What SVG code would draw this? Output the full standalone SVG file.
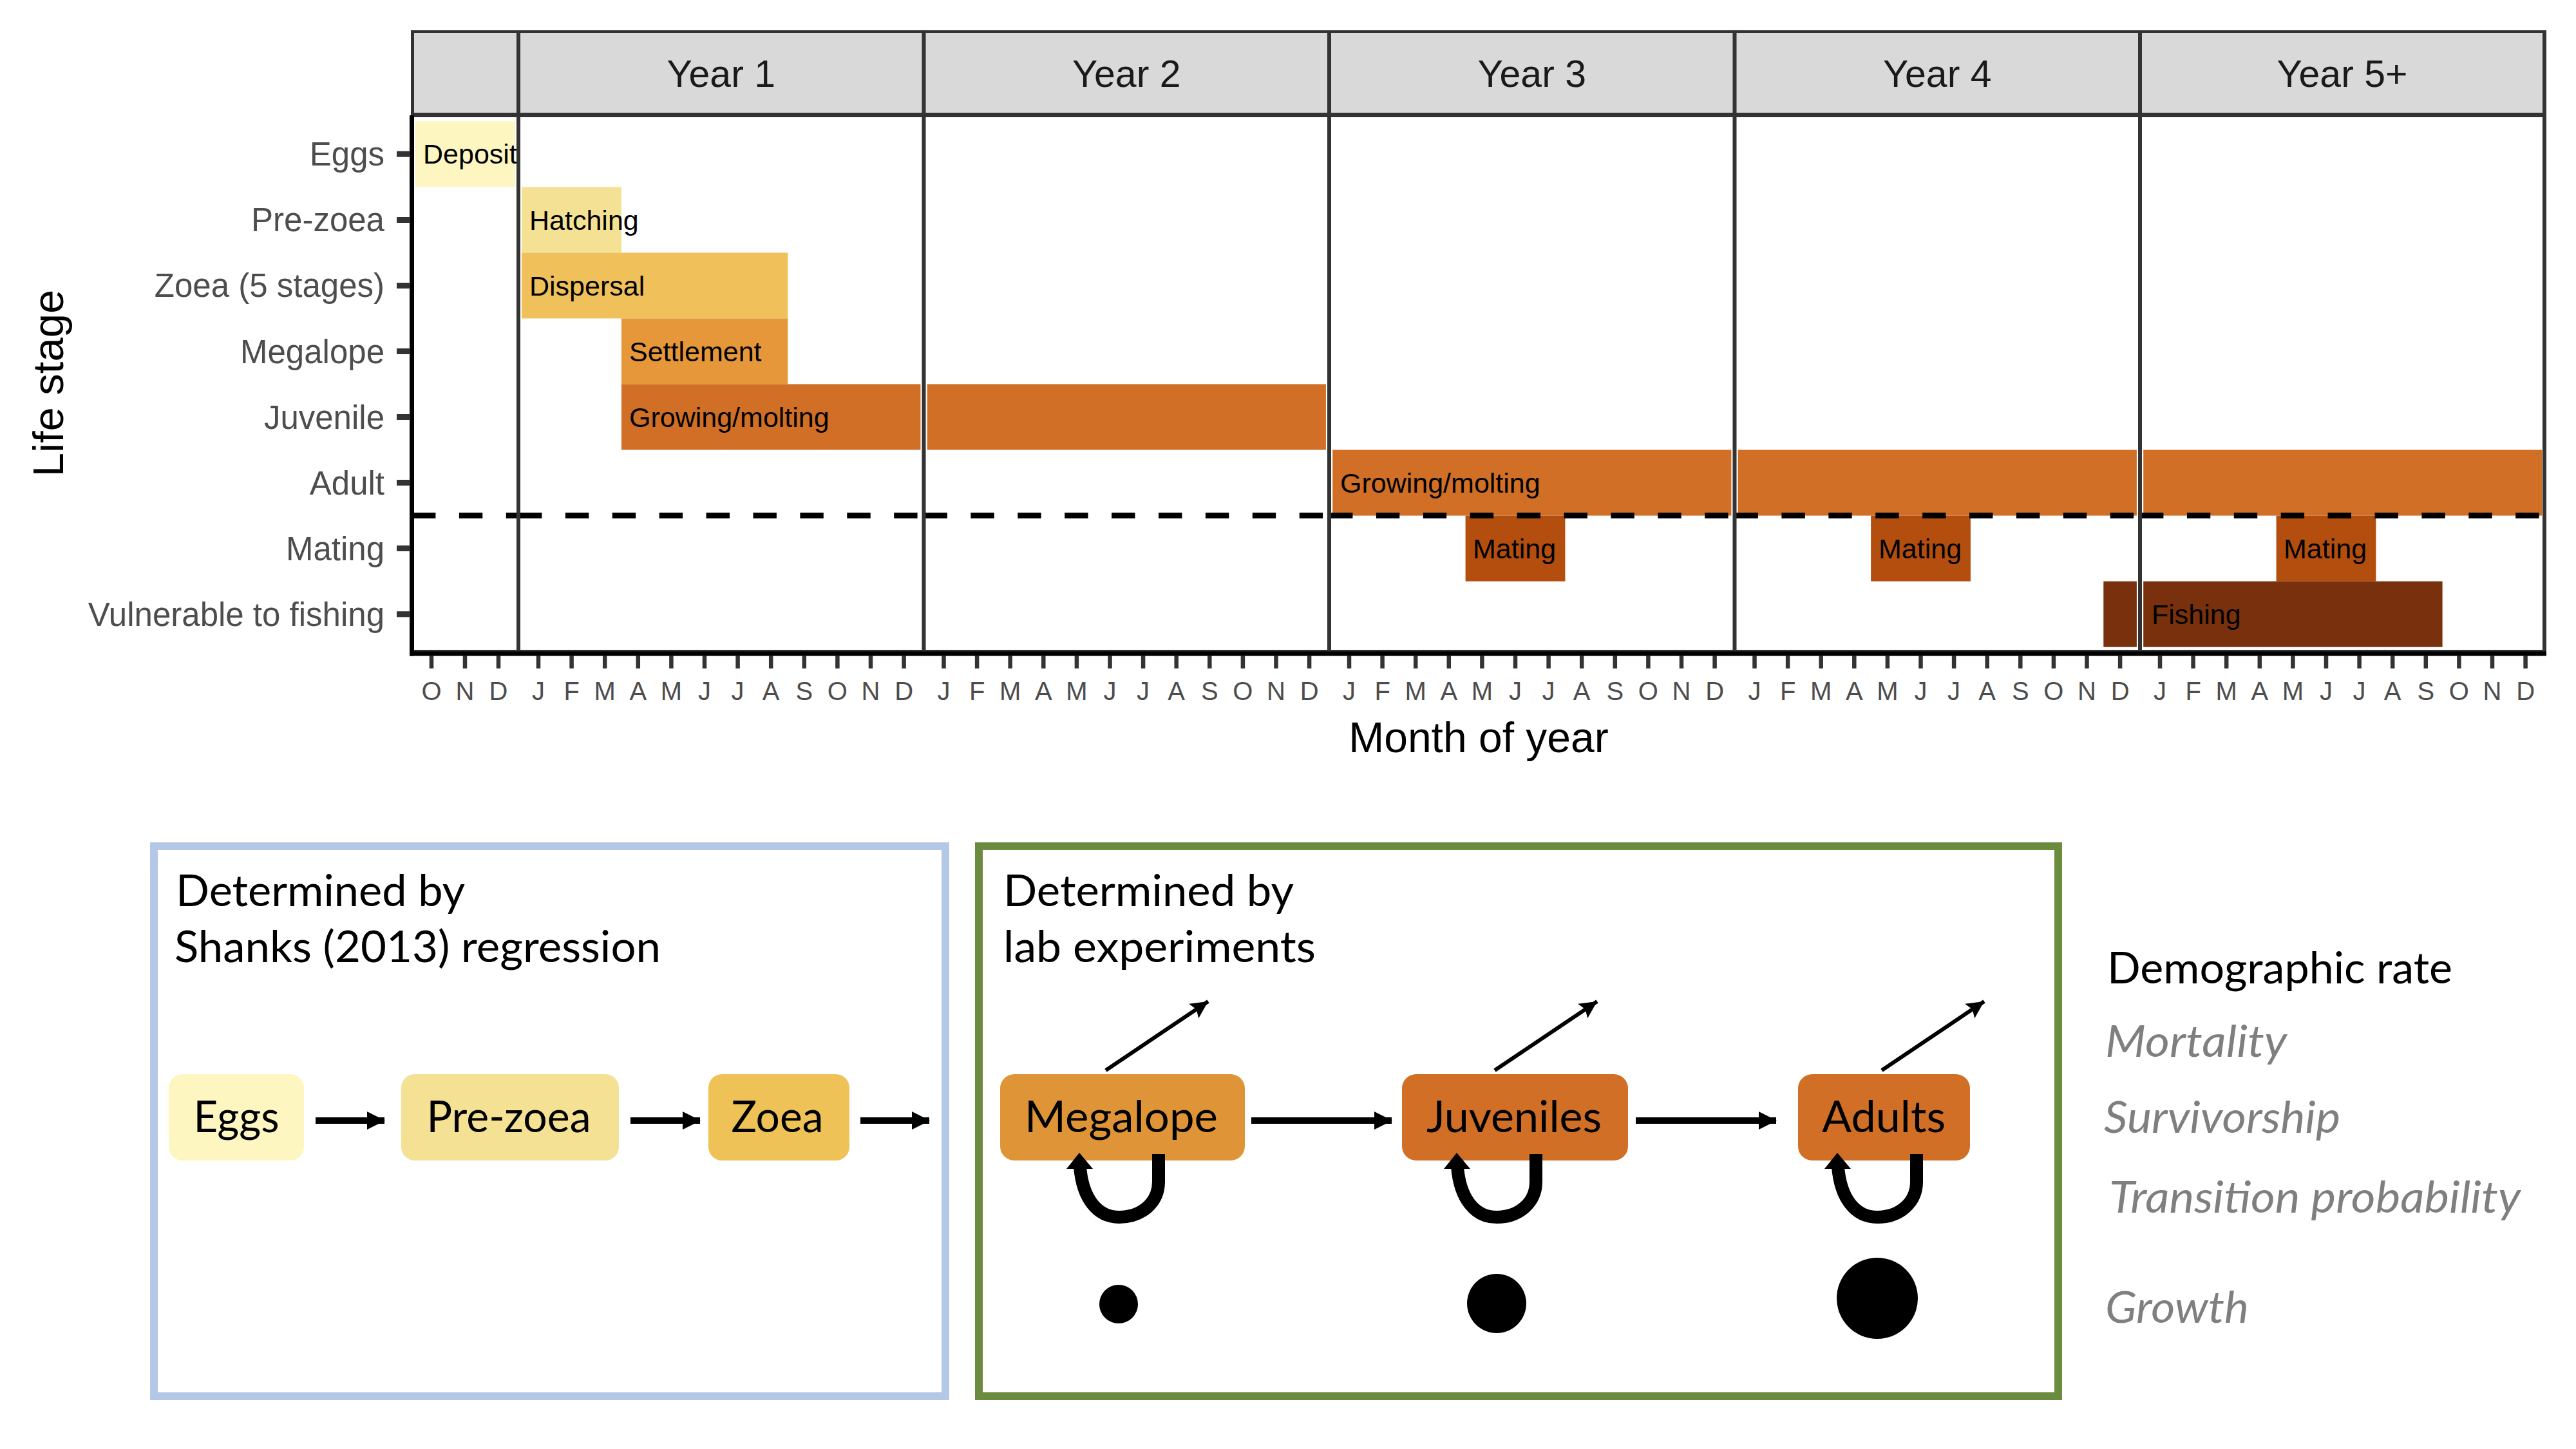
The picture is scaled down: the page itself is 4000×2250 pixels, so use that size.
<svg xmlns="http://www.w3.org/2000/svg" width="4000" height="2250" viewBox="0 0 4000 2250">
<style>
.ax{font-family:"Liberation Sans",Arial,sans-serif}
.yl{font-family:"Liberation Sans",Arial,sans-serif;font-size:51px;fill:#4D4D4D;text-anchor:end}
.ml{font-family:"Liberation Sans",Arial,sans-serif;font-size:40px;fill:#4D4D4D;text-anchor:middle}
.st{font-family:"Liberation Sans",Arial,sans-serif;font-size:59px;fill:#1A1A1A;text-anchor:middle}
.bl{font-family:"Liberation Sans",Arial,sans-serif;font-size:43px;fill:#000}
.bx{font-family:Lato,"Open Sans",sans-serif;font-size:67px;fill:#000}
.nd{font-family:Lato,"Open Sans",sans-serif;font-size:67px;fill:#000;text-anchor:middle}
.lg{font-family:Lato,"Open Sans",sans-serif;font-size:67px;fill:#7F7F7F;font-style:italic}
.brd{stroke:#333;fill:none}
.dash{stroke:#000;stroke-width:9;stroke-dasharray:36.4 36.5;fill:none}
.arr{stroke:#000;stroke-width:10;fill:none}
.mort{stroke:#000;stroke-width:6;fill:none}
.loop{stroke:#000;stroke-width:20;fill:none}
</style>
<defs>
<marker id="tri" markerUnits="userSpaceOnUse" viewBox="0 0 28 28" markerWidth="28" markerHeight="28" refX="27" refY="14" orient="auto"><path d="M0,0 L28,14 L0,28 z" fill="#000"/></marker>
<marker id="stealth" markerUnits="userSpaceOnUse" viewBox="-28 -14 30 28" markerWidth="30" markerHeight="28" refX="0" refY="0" orient="auto"><path d="M0,0 L-27,-13.5 L-22,0 L-27,13.5 z" fill="#000"/></marker>
</defs>
<rect x="0" y="0" width="4000" height="2250" fill="#fff"/>

<g id="chart">
<!-- strips -->
<g id="strips" fill="#D9D9D9">
<rect x="640" y="49" width="165" height="129"/>
<rect x="805" y="49" width="629.5" height="129"/>
<rect x="1434.5" y="49" width="629.5" height="129"/>
<rect x="2064" y="49" width="629.5" height="129"/>
<rect x="2693.5" y="49" width="629.5" height="129"/>
<rect x="3323" y="49" width="628" height="129"/>
</g>
<g id="strip-labels" class="st">
<text x="1119.8" y="135">Year 1</text>
<text x="1749.3" y="135">Year 2</text>
<text x="2378.8" y="135">Year 3</text>
<text x="3008.3" y="135">Year 4</text>
<text x="3637" y="135">Year 5+</text>
</g>

<!-- bars -->
<g id="bars">
<rect x="644.6" y="188.3" width="155.4" height="102.05" fill="#FDF6C1"/>
<rect x="810" y="290.35" width="155" height="102.05" fill="#F5E194"/>
<rect x="810" y="392.4" width="413.3" height="102.05" fill="#F0C15A"/>
<rect x="965" y="494.45" width="258.3" height="102.05" fill="#E5973A"/>
<rect x="965" y="596.5" width="464.4" height="102.05" fill="#D06F25"/>
<rect x="1439.7" y="596.5" width="619.2" height="102.05" fill="#D06F25"/>
<rect x="2069.2" y="698.55" width="619.2" height="102.05" fill="#D06F25"/>
<rect x="2698.7" y="698.55" width="619.2" height="102.05" fill="#D06F25"/>
<rect x="3328.2" y="698.55" width="619.2" height="102.05" fill="#D06F25"/>
<rect x="2275.6" y="800.6" width="154.8" height="102.05" fill="#B34E0F"/>
<rect x="2905.1" y="800.6" width="154.8" height="102.05" fill="#B34E0F"/>
<rect x="3534.6" y="800.6" width="154.8" height="102.05" fill="#B34E0F"/>
<rect x="3266.3" y="902.65" width="51.6" height="102.05" fill="#79300C"/>
<rect x="3328.2" y="902.65" width="464.4" height="102.05" fill="#79300C"/>
</g>
<g id="bar-labels" class="bl">
<text x="657" y="254">Deposit</text>
<text x="822" y="356.5">Hatching</text>
<text x="822" y="458.5">Dispersal</text>
<text x="977" y="560.5">Settlement</text>
<text x="977" y="662.5">Growing/molting</text>
<text x="2081" y="764.5">Growing/molting</text>
<text x="2287" y="866.5">Mating</text>
<text x="2917" y="866.5">Mating</text>
<text x="3546" y="866.5">Mating</text>
<text x="3341" y="968.5">Fishing</text>
</g>

<!-- dashed reference line, restarting in each panel -->
<g id="hline" class="dash">
<path d="M640,800.6 H805"/>
<path d="M805,800.6 H1434.5"/>
<path d="M1434.5,800.6 H2064"/>
<path d="M2064,800.6 H2693.5"/>
<path d="M2693.5,800.6 H3323"/>
<path d="M3323,800.6 H3951"/>
</g>

<!-- panel borders -->
<g id="borders" class="brd">
<path d="M638,49 H3953" stroke-width="4"/>
<path d="M638,178.5 H3953" stroke-width="7"/>
<path d="M640,1011 H3951" stroke-width="4"/>
<path d="M640.5,47 V180" stroke-width="5"/>
<path d="M805,47 V1012 M1434.5,47 V1012 M2064,47 V1012 M2693.5,47 V1012 M3323,47 V1012 M3951,47 V1012" stroke-width="6"/>
</g>

<!-- axes -->
<g id="axes">
<path d="M639.5,179 V1018.5" stroke="#000" stroke-width="7"/>
<path d="M636,1015 H3954" stroke="#000" stroke-width="7"/>
<path d="M616,239.3 H637 M616,341.4 H637 M616,443.4 H637 M616,545.5 H637 M616,647.5 H637 M616,749.6 H637 M616,851.6 H637 M616,953.7 H637" stroke="#333" stroke-width="9"/>
<path stroke="#333" stroke-width="6.5" d="M670,1018V1038 M722,1018V1038 M774,1018V1038
M836,1018V1038 M887.6,1018V1038 M939.2,1018V1038 M990.8,1018V1038 M1042.4,1018V1038 M1094,1018V1038 M1145.6,1018V1038 M1197.2,1018V1038 M1248.8,1018V1038 M1300.4,1018V1038 M1352,1018V1038 M1403.6,1018V1038
M1465.5,1018V1038 M1517.1,1018V1038 M1568.7,1018V1038 M1620.3,1018V1038 M1671.9,1018V1038 M1723.5,1018V1038 M1775.1,1018V1038 M1826.7,1018V1038 M1878.3,1018V1038 M1929.9,1018V1038 M1981.5,1018V1038 M2033.1,1018V1038
M2095,1018V1038 M2146.6,1018V1038 M2198.2,1018V1038 M2249.8,1018V1038 M2301.4,1018V1038 M2353,1018V1038 M2404.6,1018V1038 M2456.2,1018V1038 M2507.8,1018V1038 M2559.4,1018V1038 M2611,1018V1038 M2662.6,1018V1038
M2724.5,1018V1038 M2776.1,1018V1038 M2827.7,1018V1038 M2879.3,1018V1038 M2930.9,1018V1038 M2982.5,1018V1038 M3034.1,1018V1038 M3085.7,1018V1038 M3137.3,1018V1038 M3188.9,1018V1038 M3240.5,1018V1038 M3292.1,1018V1038
M3354,1018V1038 M3405.6,1018V1038 M3457.2,1018V1038 M3508.8,1018V1038 M3560.4,1018V1038 M3612,1018V1038 M3663.6,1018V1038 M3715.2,1018V1038 M3766.8,1018V1038 M3818.4,1018V1038 M3870,1018V1038 M3921.6,1018V1038"/>
</g>

<g id="y-labels" class="yl">
<text x="597" y="257.3">Eggs</text>
<text x="597" y="359.4">Pre-zoea</text>
<text x="597" y="461.4">Zoea (5 stages)</text>
<text x="597" y="563.5">Megalope</text>
<text x="597" y="665.5">Juvenile</text>
<text x="597" y="767.6">Adult</text>
<text x="597" y="869.6">Mating</text>
<text x="597" y="971.7">Vulnerable to fishing</text>
</g>

<g id="month-labels" class="ml">
<text x="670" y="1087">O</text><text x="722" y="1087">N</text><text x="774" y="1087">D</text>
<text x="836" y="1087">J</text><text x="887.6" y="1087">F</text><text x="939.2" y="1087">M</text><text x="990.8" y="1087">A</text><text x="1042.4" y="1087">M</text><text x="1094" y="1087">J</text><text x="1145.6" y="1087">J</text><text x="1197.2" y="1087">A</text><text x="1248.8" y="1087">S</text><text x="1300.4" y="1087">O</text><text x="1352" y="1087">N</text><text x="1403.6" y="1087">D</text>
<text x="1465.5" y="1087">J</text><text x="1517.1" y="1087">F</text><text x="1568.7" y="1087">M</text><text x="1620.3" y="1087">A</text><text x="1671.9" y="1087">M</text><text x="1723.5" y="1087">J</text><text x="1775.1" y="1087">J</text><text x="1826.7" y="1087">A</text><text x="1878.3" y="1087">S</text><text x="1929.9" y="1087">O</text><text x="1981.5" y="1087">N</text><text x="2033.1" y="1087">D</text>
<text x="2095" y="1087">J</text><text x="2146.6" y="1087">F</text><text x="2198.2" y="1087">M</text><text x="2249.8" y="1087">A</text><text x="2301.4" y="1087">M</text><text x="2353" y="1087">J</text><text x="2404.6" y="1087">J</text><text x="2456.2" y="1087">A</text><text x="2507.8" y="1087">S</text><text x="2559.4" y="1087">O</text><text x="2611" y="1087">N</text><text x="2662.6" y="1087">D</text>
<text x="2724.5" y="1087">J</text><text x="2776.1" y="1087">F</text><text x="2827.7" y="1087">M</text><text x="2879.3" y="1087">A</text><text x="2930.9" y="1087">M</text><text x="2982.5" y="1087">J</text><text x="3034.1" y="1087">J</text><text x="3085.7" y="1087">A</text><text x="3137.3" y="1087">S</text><text x="3188.9" y="1087">O</text><text x="3240.5" y="1087">N</text><text x="3292.1" y="1087">D</text>
<text x="3354" y="1087">J</text><text x="3405.6" y="1087">F</text><text x="3457.2" y="1087">M</text><text x="3508.8" y="1087">A</text><text x="3560.4" y="1087">M</text><text x="3612" y="1087">J</text><text x="3663.6" y="1087">J</text><text x="3715.2" y="1087">A</text><text x="3766.8" y="1087">S</text><text x="3818.4" y="1087">O</text><text x="3870" y="1087">N</text><text x="3921.6" y="1087">D</text>
</g>

<text class="ax" x="2296" y="1168" font-size="66" text-anchor="middle" fill="#000">Month of year</text>
<text class="ax" x="0" y="0" font-size="67" text-anchor="middle" fill="#000" transform="translate(98,595) rotate(-90)">Life stage</text>
</g>

<!-- lower panels -->
<g id="box-regression">
<rect x="239" y="1314" width="1229" height="854" fill="none" stroke="#B4C7E7" stroke-width="12"/>
<text class="bx" x="273" y="1407" textLength="449" lengthAdjust="spacingAndGlyphs">Determined by</text>
<text class="bx" x="271" y="1494" textLength="755" lengthAdjust="spacingAndGlyphs">Shanks (2013) regression</text>
</g>
<g id="box-lab">
<rect x="1520" y="1314" width="1676" height="854" fill="none" stroke="#6B8B3F" stroke-width="12"/>
<text class="bx" x="1558" y="1407" textLength="451" lengthAdjust="spacingAndGlyphs">Determined by</text>
<text class="bx" x="1558" y="1494" textLength="485" lengthAdjust="spacingAndGlyphs">lab experiments</text>
</g>

<g id="node-eggs">
<rect x="262" y="1668" width="210" height="134" rx="21" fill="#FDF6C1"/>
<text class="nd" x="367" y="1758" textLength="133" lengthAdjust="spacingAndGlyphs">Eggs</text>
</g>
<g id="node-prezoea">
<rect x="623" y="1668" width="338" height="134" rx="21" fill="#F5E194"/>
<text class="nd" x="790" y="1758" textLength="255" lengthAdjust="spacingAndGlyphs">Pre-zoea</text>
</g>
<g id="node-zoea">
<rect x="1100" y="1668" width="219" height="134" rx="21" fill="#EFC258"/>
<text class="nd" x="1207" y="1758" textLength="143" lengthAdjust="spacingAndGlyphs">Zoea</text>
</g>
<g id="node-megalope">
<rect x="1553" y="1668" width="380" height="134" rx="22" fill="#DF9537"/>
<text class="nd" x="1741" y="1758" textLength="300" lengthAdjust="spacingAndGlyphs">Megalope</text>
</g>
<g id="node-juveniles">
<rect x="2177" y="1668" width="351" height="134" rx="22" fill="#D06F25"/>
<text class="nd" x="2351" y="1758" textLength="272" lengthAdjust="spacingAndGlyphs">Juveniles</text>
</g>
<g id="node-adults">
<rect x="2792" y="1668" width="267" height="134" rx="22" fill="#D06F25"/>
<text class="nd" x="2925" y="1758" textLength="192" lengthAdjust="spacingAndGlyphs">Adults</text>
</g>

<g id="growth-dots" fill="#000">
<circle cx="1737" cy="2025" r="30"/>
<circle cx="2324" cy="2024" r="46"/>
<circle cx="2915" cy="2016" r="63"/>
</g>

<g id="connectors">
<path class="arr" d="M490,1740 H597" marker-end="url(#tri)"/>
<path class="arr" d="M979,1740 H1087" marker-end="url(#tri)"/>
<path class="arr" d="M1336,1740 H1443" marker-end="url(#tri)"/>
<path class="arr" d="M1943,1740 H2161" marker-end="url(#tri)"/>
<path class="arr" d="M2540,1740 H2758" marker-end="url(#tri)"/>
<path class="mort" d="M1717,1662 L1876,1555" marker-end="url(#stealth)"/>
<path class="mort" d="M2321,1662 L2480,1555" marker-end="url(#stealth)"/>
<path class="mort" d="M2922,1662 L3081,1555" marker-end="url(#stealth)"/>
<path class="loop" d="M1799,1792 L1799,1835 C1799,1868 1772,1890 1738,1890 C1703,1890 1681,1860 1677,1812"/>
<polygon points="1676,1790 1656,1815 1697,1815" fill="#000"/>
<path class="loop" d="M2385,1792 L2385,1835 C2385,1868 2358,1890 2324,1890 C2289,1890 2267,1860 2263,1812"/>
<polygon points="2262,1790 2242,1815 2283,1815" fill="#000"/>
<path class="loop" d="M2976,1792 L2976,1835 C2976,1868 2949,1890 2915,1890 C2880,1890 2858,1860 2854,1812"/>
<polygon points="2853,1790 2833,1815 2874,1815" fill="#000"/>
</g>

<g id="legend">
<text class="bx" x="3272" y="1527" textLength="536" lengthAdjust="spacingAndGlyphs">Demographic rate</text>
<text class="lg" x="3269" y="1641" textLength="282" lengthAdjust="spacingAndGlyphs">Mortality</text>
<text class="lg" x="3267" y="1759" textLength="367" lengthAdjust="spacingAndGlyphs">Survivorship</text>
<text class="lg" x="3275" y="1883" textLength="639" lengthAdjust="spacingAndGlyphs">Transition probability</text>
<text class="lg" x="3269" y="2054" textLength="223" lengthAdjust="spacingAndGlyphs">Growth</text>
</g>
</svg>
